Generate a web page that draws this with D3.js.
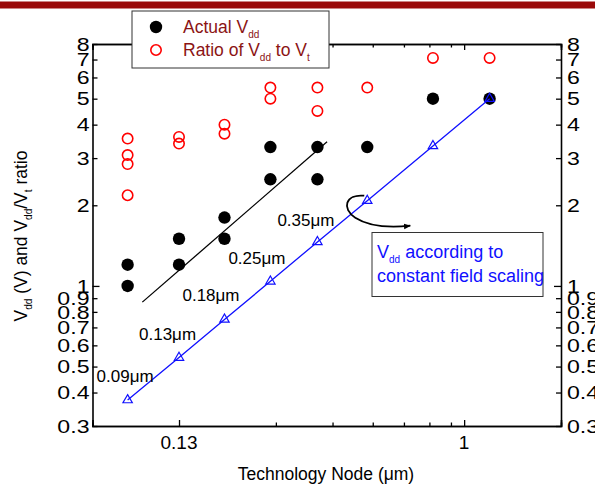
<!DOCTYPE html>
<html>
<head>
<meta charset="utf-8">
<script src="https://cdn.jsdelivr.net/npm/d3@7"></script>
<style>
  html, body { margin: 0; padding: 0; background: #fff; }
  svg { display: block; font-family: "Liberation Sans", Arial, sans-serif; }
</style>
</head>
<body>
<svg id="chart" width="595" height="487"></svg>
<script>
// Technology nodes (um)
const nodes = [0.09, 0.13, 0.18, 0.25, 0.35, 0.5, 0.8, 1.2];

// Actual supply voltage (V) per node (some nodes have two reported values)
const actualNode = [0.09, 0.09, 0.13, 0.13, 0.18, 0.18, 0.25, 0.25, 0.35, 0.35, 0.5, 0.8, 1.2];
const actualVdd  = [1.2, 1.0, 1.5, 1.2, 1.8, 1.5, 3.3, 2.5, 3.3, 2.5, 3.3, 5.0, 5.0];

// Ratio of Vdd to Vt per node
const ratioNode = [0.09, 0.09, 0.09, 0.09, 0.13, 0.13, 0.18, 0.18, 0.25, 0.25, 0.35, 0.35, 0.5, 0.8, 1.2];
const ratioVal  = [3.55, 3.08, 2.85, 2.18, 3.6, 3.4, 4.0, 3.7, 5.5, 5.0, 5.5, 4.5, 5.5, 7.1, 7.1];

// Vdd under constant field scaling
const fieldVdd = [0.375, 0.54, 0.75, 1.04, 1.46, 2.08, 3.33, 5.0];

// Trend line through the actual Vdd values (endpoints)
const trendNode = [0.1, 0.375];
const trendVdd  = [0.87, 3.45];

// Node labels written along the scaling line
const nodeLabels = ["0.09\u03bcm", "0.13\u03bcm", "0.18\u03bcm", "0.25\u03bcm", "0.35\u03bcm"];

// Axis ticks
const xMajor = [0.13, 1];
const xMinor = [0.26, 0.39, 0.52, 0.65, 0.78, 0.91];
const yTicks = [0.3, 0.4, 0.5, 0.6, 0.7, 0.8, 0.9, 1, 2, 3, 4, 5, 6, 7, 8];

const svg = d3.select("#chart");
const L = 92.5, R = 561, T = 44, B = 426;

const x = d3.scaleLog().domain([0.07, 2]).range([L, R]);
const y = d3.scaleLog().domain([0.3, 8]).range([B, T]);

const darkRed = "#8b1414";
const blue = "#1010ff";

// Banner strip at the top of the slide
svg.append("rect").attr("x", 0).attr("y", 1.5).attr("width", 595).attr("height", 7)
  .attr("fill", "#9a0a0a");

// Axes: ticks point inward, labels on the outside
const fmt = d => String(d);
const yLen = d => (d === 1 ? 7 : 5);
const yLeft = d3.axisRight(y).tickValues(yTicks).tickFormat("").tickSizeOuter(0);
const yRight = d3.axisLeft(y).tickValues(yTicks).tickFormat("").tickSizeOuter(0);
svg.append("g").attr("transform", `translate(${L},0)`).call(yLeft)
  .selectAll(".tick line").attr("x2", yLen);
svg.append("g").attr("transform", `translate(${R},0)`).call(yRight)
  .selectAll(".tick line").attr("x2", d => -yLen(d));

const xBottomMajor = d3.axisTop(x).tickValues(xMajor).tickFormat("").tickSizeOuter(0).tickSize(6);
const xBottomMinor = d3.axisTop(x).tickValues(xMinor).tickFormat("").tickSizeOuter(0).tickSize(3.5);
const xTopMajor = d3.axisBottom(x).tickValues(xMajor).tickFormat("").tickSizeOuter(0).tickSize(6);
const xTopMinor = d3.axisBottom(x).tickValues(xMinor).tickFormat("").tickSizeOuter(0).tickSize(3.5);
svg.append("g").attr("transform", `translate(0,${B})`).call(xBottomMajor);
svg.append("g").attr("transform", `translate(0,${B})`).call(xBottomMinor);
svg.append("g").attr("transform", `translate(0,${T})`).call(xTopMajor);
svg.append("g").attr("transform", `translate(0,${T})`).call(xTopMinor);

svg.selectAll(".domain").attr("stroke", "#000").attr("stroke-width", 1.6);
svg.selectAll(".tick line").attr("stroke", "#000").attr("stroke-width", 1.3);

// Tick labels (y labels are set in a slightly wide face)
const yLab = svg.append("g").attr("font-size", 18.5).attr("fill", "#000");
yLab.selectAll("text.l").data(yTicks).join("text").attr("class", "l")
  .attr("transform", d => `translate(${L - 3},${y(d)}) scale(1.25,1)`)
  .attr("dy", "0.36em").attr("text-anchor", "end").text(fmt);
yLab.selectAll("text.r").data(yTicks).join("text").attr("class", "r")
  .attr("transform", d => `translate(${R + 6},${y(d)}) scale(1.25,1)`)
  .attr("dy", "0.36em").attr("text-anchor", "start").text(fmt);

svg.append("g").attr("font-size", 19).selectAll("text").data(xMajor).join("text")
  .attr("x", d => x(d)).attr("y", 449).attr("text-anchor", "middle").text(fmt);

// Axis titles
svg.append("text").attr("x", 326).attr("y", 480).attr("text-anchor", "middle")
  .attr("font-size", 17.5).text("Technology Node (\u03bcm)");

const yt = svg.append("text").attr("text-anchor", "middle").attr("font-size", 17.5)
  .attr("transform", "translate(27,236) rotate(-90)");
yt.append("tspan").text("V");
yt.append("tspan").attr("font-size", 10).attr("dy", 5).text("dd");
yt.append("tspan").attr("dy", -5).text(" (V) and V");
yt.append("tspan").attr("font-size", 10).attr("dy", 5).text("dd");
yt.append("tspan").attr("dy", -5).text("/V");
yt.append("tspan").attr("font-size", 10).attr("dy", 5).text("t");
yt.append("tspan").attr("dy", -5).text(" ratio");

// Ratio of Vdd to Vt: open red circles
svg.append("g").selectAll("circle").data(ratioVal).join("circle")
  .attr("cx", (d, i) => x(ratioNode[i])).attr("cy", d => y(d)).attr("r", 5.2)
  .attr("fill", "none").attr("stroke", "#ff0000").attr("stroke-width", 1.6);

// Actual Vdd: filled black dots
svg.append("g").selectAll("circle").data(actualVdd).join("circle")
  .attr("cx", (d, i) => x(actualNode[i])).attr("cy", d => y(d)).attr("r", 6.2)
  .attr("fill", "#000");

// Trend line
svg.append("line")
  .attr("x1", x(trendNode[0])).attr("y1", y(trendVdd[0]))
  .attr("x2", x(trendNode[1])).attr("y2", y(trendVdd[1]))
  .attr("stroke", "#000").attr("stroke-width", 1.3);

// Constant field scaling line with open triangles
const fieldLine = d3.line().x((d, i) => x(nodes[i])).y(d => y(d));
svg.append("path").datum(fieldVdd).attr("d", fieldLine)
  .attr("fill", "none").attr("stroke", blue).attr("stroke-width", 1.3);
const tri = d3.symbol().type(d3.symbolTriangle).size(38);
svg.append("g").selectAll("path").data(fieldVdd).join("path")
  .attr("transform", (d, i) => `translate(${x(nodes[i])},${y(d)})`)
  .attr("d", tri).attr("fill", "none").attr("stroke", blue).attr("stroke-width", 1.2);

// Node labels placed above-left of each scaling point
const labelDx = [-31, -40, -42, -42, -40];
const labelDy = [-18, -18, -18, -17, -16];
const nl = svg.append("g").attr("font-size", 17).attr("fill", "#000");
nl.selectAll("text").data(nodeLabels).join("text")
  .attr("x", (d, i) => x(nodes[i]) + labelDx[i])
  .attr("y", (d, i) => y(fieldVdd[i]) + labelDy[i])
  .text(d => d);

// Curved arrow from the 0.5um scaling point to the annotation box
const defs = svg.append("defs");
defs.append("marker").attr("id", "ah").attr("viewBox", "0 0 10 10")
  .attr("refX", 9).attr("refY", 5).attr("markerWidth", 7).attr("markerHeight", 7)
  .attr("orient", "auto-start-reverse").attr("markerUnits", "userSpaceOnUse")
  .append("path").attr("d", "M0,1 L10,5 L0,9 Z").attr("fill", "#000");
const cx = x(0.5), cy = y(fieldVdd[5]);
svg.append("path")
  .attr("d", `M${cx - 3},${cy - 5} C${cx - 22},${cy - 7} ${cx - 26},${cy + 8} ${cx - 12},${cy + 17}
              C${cx + 2},${cy + 26} ${cx + 24},${cy + 27} ${cx + 43},${cy + 25}`)
  .attr("fill", "none").attr("stroke", "#000").attr("stroke-width", 1.8)
  .attr("marker-end", "url(#ah)");

// Annotation box
svg.append("rect").attr("x", 372).attr("y", 232.5).attr("width", 171).attr("height", 64)
  .attr("fill", "#fff").attr("stroke", "#333").attr("stroke-width", 1);
const a1 = svg.append("text").attr("x", 377).attr("y", 258).attr("font-size", 18).attr("fill", blue);
a1.append("tspan").text("V");
a1.append("tspan").attr("font-size", 10).attr("dy", 5).text("dd");
a1.append("tspan").attr("dy", -5).text(" according to");
svg.append("text").attr("x", 377).attr("y", 282).attr("font-size", 18).attr("fill", blue)
  .text("constant field scaling");

// Legend
const lg = svg.append("g");
lg.append("rect").attr("x", 132).attr("y", 11).attr("width", 197).attr("height", 57)
  .attr("fill", "#fff").attr("stroke", "#333").attr("stroke-width", 1);
lg.append("circle").attr("cx", 156).attr("cy", 27).attr("r", 6.2).attr("fill", "#000");
lg.append("circle").attr("cx", 156).attr("cy", 50).attr("r", 5.2)
  .attr("fill", "none").attr("stroke", "#ff0000").attr("stroke-width", 1.6);
const l1 = lg.append("text").attr("x", 183).attr("y", 33).attr("font-size", 17.5).attr("fill", darkRed);
l1.append("tspan").text("Actual V");
l1.append("tspan").attr("font-size", 10).attr("dy", 5).text("dd");
const l2 = lg.append("text").attr("x", 183).attr("y", 56).attr("font-size", 17.5).attr("fill", darkRed);
l2.append("tspan").text("Ratio of V");
l2.append("tspan").attr("font-size", 10).attr("dy", 5).text("dd");
l2.append("tspan").attr("dy", -5).text(" to V");
l2.append("tspan").attr("font-size", 10).attr("dy", 5).text("t");
</script>
</body>
</html>
